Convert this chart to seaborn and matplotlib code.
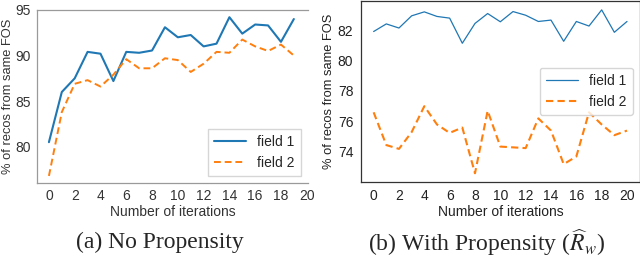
import numpy as np
import pandas as pd
import matplotlib
matplotlib.use("Agg")
import matplotlib.pyplot as plt
import seaborn as sns

# (a) no propensity, iterations 0..19
iters_a = list(range(20))
field1_a = [80.5, 86.0, 87.5, 90.4, 90.2, 87.2, 90.4, 90.3, 90.55, 93.1,
            92.0, 92.25, 91.0, 91.3, 94.2, 92.4, 93.4, 93.3, 91.5, 94.0]
field2_a = [76.8, 83.8, 86.9, 87.3, 86.6, 87.9, 89.6, 88.6, 88.6, 89.7,
            89.5, 88.2, 89.1, 90.4, 90.3, 91.75, 91.0, 90.5, 91.2, 90.0]

# (b) with propensity, iterations 0..20
iters_b = list(range(21))
field1_b = [81.9, 82.4, 82.13, 82.93, 83.19, 82.89, 82.78, 81.13, 82.43, 83.08,
            82.54, 83.21, 82.97, 82.56, 82.65, 81.26, 82.56, 82.26, 83.32, 81.85, 82.56]
field2_b = [76.6, 74.45, 74.2, 75.3, 77.0, 75.8, 75.25, 75.6, 72.6, 76.7,
            74.35, 74.3, 74.25, 76.2, 75.4, 73.2, 73.7, 76.6, 75.8, 75.1, 75.4]

sns.set_style("white")
plt.rcParams['font.family'] = ['Liberation Sans', 'DejaVu Sans']
plt.rcParams['mathtext.fontset'] = 'stix'

fig = plt.figure(figsize=(6.4, 2.61), dpi=100)
ax1 = fig.add_axes([0.0573, 0.298, 0.424, 0.664])
ax2 = fig.add_axes([0.564, 0.304, 0.4355, 0.692])

blue = "#1f77b4"
orange = "#ff7f0e"
fs = 10

# left panel
sns.lineplot(x=iters_a, y=field1_a, ax=ax1, color=blue, lw=1.5, label="field 1")
sns.lineplot(x=iters_a, y=field2_a, ax=ax1, color=orange, lw=1.4, dashes=(3.5, 2),
             label="field 2")
ax1.set_xlim(-0.95, 20.1)
ax1.set_ylim(76, 95)
ax1.set_xticks(range(0, 21, 2))
ax1.set_yticks([80, 85, 90, 95])
ax1.spines['right'].set_visible(False)
for s in ['left', 'top', 'bottom']:
    ax1.spines[s].set_color("#9a9a9a")
    ax1.spines[s].set_linewidth(0.9)
ax1.tick_params(axis='both', direction='out', length=3, width=0.8, color="#9a9a9a",
                labelsize=fs, labelcolor="#333333", pad=1.5)
ax1.set_xlabel("Number of iterations", fontsize=fs, color="#333333", labelpad=1)
ax1.set_ylabel("% of recos from same FOS", fontsize=9.3, color="#333333", labelpad=0.5)
ax1.legend(loc="lower right", fontsize=fs, frameon=True, handlelength=2.3,
           borderpad=0.45, labelspacing=0.5, fancybox=False, edgecolor="#cccccc")

# right panel
sns.lineplot(x=iters_b, y=field1_b, ax=ax2, color=blue, lw=0.9, label="field 1")
sns.lineplot(x=iters_b, y=field2_b, ax=ax2, color=orange, lw=1.5, dashes=(3.5, 2),
             label="field 2")
ax2.set_xlim(-1, 21)
ax2.set_ylim(72.05, 83.9)
ax2.set_xticks(range(0, 21, 2))
ax2.set_yticks([74, 76, 78, 80, 82])
for s in ['left', 'top', 'bottom', 'right']:
    ax2.spines[s].set_color("#333333")
    ax2.spines[s].set_linewidth(0.9)
ax2.tick_params(axis='both', direction='out', length=3.5, width=0.8, color="#333333",
                labelsize=fs, labelcolor="#222222", pad=2)
ax2.set_xlabel("Number of iterations", fontsize=fs, color="#222222", labelpad=1)
ax2.set_ylabel("% of recos from same FOS", fontsize=9.3, color="#222222", labelpad=2)
ax2.legend(loc="center right", fontsize=fs, frameon=True, handlelength=2.3,
           borderpad=0.45, labelspacing=0.5, fancybox=True, edgecolor="#cccccc")

# captions
fig.text(0.25, 0.07, "(a) No Propensity", ha="center", va="center",
         fontsize=17, family="Liberation Serif")
fig.text(0.76, 0.07, r"(b) With Propensity ($\widehat{R}_w$)", ha="center", va="center",
         fontsize=17, family="Liberation Serif")

fig.savefig("out.png", dpi=100)
